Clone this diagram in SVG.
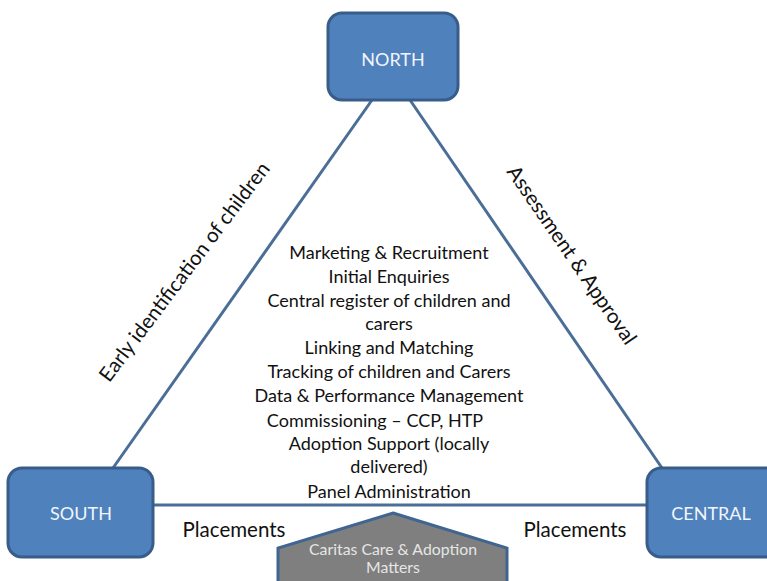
<svg xmlns="http://www.w3.org/2000/svg" width="767" height="581" viewBox="0 0 767 581">
  <style>
    .region rect { fill: #4F81BD; stroke: #385D8A; stroke-width: 3; }
    .region text { font-family: Lato, "Open Sans", sans-serif; font-size: 18px; fill: #F2F5FA; text-anchor: middle; }
    .link { stroke: #4A6E96; stroke-width: 3; fill: none; }
    .label { font-family: Lato, "Open Sans", sans-serif; font-size: 20.5px; fill: #111111; }
    .services { font-family: Lato, "Open Sans", sans-serif; font-size: 18px; fill: #111111; text-anchor: middle; }
    .partner polygon { fill: #7F7F7F; stroke: #3F6590; stroke-width: 3; }
    .partner text { font-family: Lato, "Open Sans", sans-serif; font-size: 15.8px; fill: #E6E6E6; text-anchor: middle; }
  </style>

  <rect width="767" height="581" fill="#FFFFFF"/>

  <!-- triangle of links between the three regions -->
  <g id="connectors">
    <line class="link" x1="372" y1="100" x2="113" y2="468"/>
    <line class="link" x1="410" y1="100" x2="662" y2="468"/>
    <line class="link" x1="153" y1="505" x2="647" y2="505"/>
  </g>

  <!-- edge labels -->
  <g id="edge-labels">
    <text class="label" text-anchor="middle" transform="translate(190 276) rotate(-53)">Early identification of children</text>
    <text class="label" text-anchor="middle" transform="translate(566 259) rotate(55.5)">Assessment &amp; Approval</text>
    <text class="label" text-anchor="middle" x="234" y="537">Placements</text>
    <text class="label" text-anchor="middle" x="575" y="537">Placements</text>
  </g>

  <!-- shared services in the centre -->
  <g id="services">
    <text class="services" x="389" y="259">Marketing &amp; Recruitment</text>
    <text class="services" x="389" y="283">Initial Enquiries</text>
    <text class="services" x="389" y="307">Central register of children and</text>
    <text class="services" x="389" y="330">carers</text>
    <text class="services" x="389" y="354">Linking and Matching</text>
    <text class="services" x="389" y="378">Tracking of children and Carers</text>
    <text class="services" x="389" y="402">Data &amp; Performance Management</text>
    <text class="services" x="375" y="427">Commissioning – CCP, HTP</text>
    <text class="services" x="389" y="450">Adoption Support (locally</text>
    <text class="services" x="389" y="473">delivered)</text>
    <text class="services" x="389" y="498">Panel Administration</text>
  </g>

  <g id="north" class="region">
    <rect x="328" y="13" width="130" height="87" rx="14"/>
    <text x="393" y="66">NORTH</text>
  </g>

  <g id="south" class="region">
    <rect x="8" y="468" width="145" height="89" rx="14"/>
    <text x="81" y="520">SOUTH</text>
  </g>

  <g id="central" class="region">
    <rect x="647" y="468" width="140" height="89" rx="14"/>
    <text x="711" y="520">CENTRAL</text>
  </g>

  <g id="caritas" class="partner">
    <polygon points="393,513 507,548 507,600 278,600 278,548"/>
    <text x="393" y="555">Caritas Care &amp; Adoption</text>
    <text x="393" y="573">Matters</text>
  </g>
</svg>
